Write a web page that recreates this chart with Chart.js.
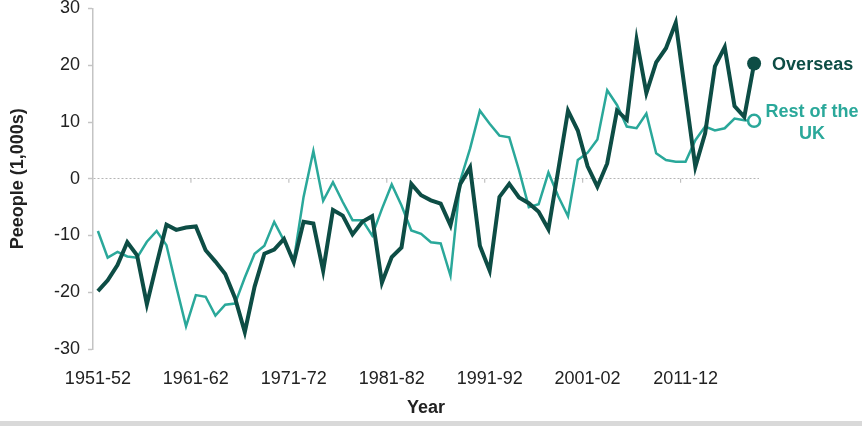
<!DOCTYPE html>
<html>
<head>
<meta charset="utf-8">
<script src="https://cdn.jsdelivr.net/npm/chart.js@4.4.1/dist/chart.umd.min.js"></script>
<style>
  body { margin: 0; background: #fff; }
  #wrap { position: relative; width: 862px; height: 421px; }
  #bar { width: 862px; height: 5px; background: #d9d9d9; }
</style>
</head>
<body>
<div id="wrap"><canvas id="migChart"></canvas></div>
<div id="bar"></div>
<script>
var years = [
  '1951-52','1952-53','1953-54','1954-55','1955-56','1956-57','1957-58','1958-59','1959-60','1960-61',
  '1961-62','1962-63','1963-64','1964-65','1965-66','1966-67','1967-68','1968-69','1969-70','1970-71',
  '1971-72','1972-73','1973-74','1974-75','1975-76','1976-77','1977-78','1978-79','1979-80','1980-81',
  '1981-82','1982-83','1983-84','1984-85','1985-86','1986-87','1987-88','1988-89','1989-90','1990-91',
  '1991-92','1992-93','1993-94','1994-95','1995-96','1996-97','1997-98','1998-99','1999-00','2000-01',
  '2001-02','2002-03','2003-04','2004-05','2005-06','2006-07','2007-08','2008-09','2009-10','2010-11',
  '2011-12','2012-13','2013-14','2014-15','2015-16','2016-17','2017-18','2018-19'
];

var tickLabels = ['1951-52', '1961-62', '1971-72', '1981-82', '1991-92', '2001-02', '2011-12'];

// net migration, thousands
var overseas = [
  -19.8, -17.9, -15.2, -11.2, -13.5, -22.1, -15.0, -8.1, -9.0, -8.6,
  -8.4, -12.6, -14.6, -16.8, -21.0, -27.0, -19.0, -13.2, -12.5, -10.6,
  -14.7, -7.6, -7.9, -16.2, -5.5, -6.5, -9.8, -7.6, -6.6, -18.3,
  -13.8, -12.1, -0.9, -2.9, -3.8, -4.4, -8.2, -0.9, 2.0, -11.8,
  -16.2, -3.2, -0.9, -3.3, -4.3, -5.8, -8.9, 1.5, 12.0, 8.5,
  2.2, -1.4, 2.7, 12.0, 10.4, 24.5, 15.1, 20.5, 23.0, 27.5,
  14.8, 2.1, 8.0, 19.8, 23.2, 12.8, 10.9, 20.3
];

var restOfUK = [
  -9.2, -13.9, -12.9, -13.7, -13.9, -11.1, -9.2, -11.7, -19.0, -26.0,
  -20.5, -20.8, -24.1, -22.2, -22.0, -17.4, -13.2, -11.8, -7.6, -10.9,
  -14.4, -3.2, 4.9, -3.9, -0.6, -4.1, -7.3, -7.3, -10.0, -5.3,
  -1.0, -4.7, -9.1, -9.7, -11.2, -11.4, -17.1, -0.3, 5.3, 12.0,
  9.7, 7.6, 7.3, 1.5, -5.0, -4.5, 1.1, -3.1, -6.6, 3.3,
  4.6, 6.9, 15.6, 13.0, 9.2, 8.9, 11.5, 4.5, 3.3, 3.0,
  3.0, 6.8, 9.2, 8.5, 8.9, 10.6, 10.3, 10.2
];

var yTicks = [-30, -20, -10, 0, 10, 20, 30];

var darkTeal = '#0d4d45';
var lightTeal = '#2aa89a';
var textCol = '#222222';

function lastOnly(r) {
  return function(ctx) { return ctx.dataIndex === years.length - 1 ? r : 0; };
}

// labels next to the end points + small ticks on the zero line
var endLabels = {
  id: 'endLabels',
  afterDatasetsDraw: function(chart) {
    var c = chart.ctx;
    var xs = chart.scales.x, ys = chart.scales.y;
    var y0 = ys.getPixelForValue(0);
    c.save();
    c.strokeStyle = '#b5b5b5';
    c.lineWidth = 1;
    for (var k = 10; k < years.length; k += 10) {
      var bx = (xs.getPixelForValue(k - 1) + xs.getPixelForValue(k)) / 2;
      c.beginPath();
      c.moveTo(bx, y0);
      c.lineTo(bx, y0 + 4);
      c.stroke();
    }
    var p1 = chart.getDatasetMeta(0).data[years.length - 1];
    var p2 = chart.getDatasetMeta(1).data[years.length - 1];
    c.font = 'bold 18px "Liberation Sans", Arial, sans-serif';
    c.textBaseline = 'middle';
    c.fillStyle = darkTeal;
    c.textAlign = 'left';
    c.fillText('Overseas', p1.x + 18, p1.y + 1);
    c.fillStyle = lightTeal;
    c.textAlign = 'center';
    c.fillText('Rest of the', p2.x + 58, p2.y - 9);
    c.fillText('UK', p2.x + 58, p2.y + 13);
    c.restore();
  }
};

var ctx = document.getElementById('migChart').getContext('2d');
var migChart = new Chart(ctx, {
  type: 'line',
  data: {
    labels: years,
    datasets: [{
      label: 'Overseas',
      data: overseas,
      borderColor: darkTeal,
      backgroundColor: darkTeal,
      borderWidth: 4,
      tension: 0,
      pointRadius: lastOnly(7),
      pointHoverRadius: 0,
      pointBackgroundColor: darkTeal,
      pointBorderColor: darkTeal,
      pointBorderWidth: 0
    }, {
      label: 'Rest of the UK',
      data: restOfUK,
      borderColor: lightTeal,
      backgroundColor: '#ffffff',
      borderWidth: 2.5,
      tension: 0,
      pointRadius: lastOnly(6),
      pointHoverRadius: 0,
      pointBackgroundColor: '#ffffff',
      pointBorderColor: lightTeal,
      pointBorderWidth: 2.5
    }]
  },
  options: {
    responsive: true,
    maintainAspectRatio: false,
    animation: false,
    layout: { padding: { left: 0, right: 103, top: 0, bottom: 0 } },
    plugins: {
      legend: { display: false },
      tooltip: { enabled: false }
    },
    scales: {
      x: {
        type: 'category',
        offset: true,
        grid: { display: false },
        border: { display: false },
        afterFit: function(scale) { scale.height = 72; },
        ticks: {
          autoSkip: false,
          maxRotation: 0,
          padding: 11,
          color: textCol,
          font: { family: '"Liberation Sans", Arial, sans-serif', size: 18 },
          callback: function(v, i) {
            var s = years[i];
            return tickLabels.indexOf(s) >= 0 ? s : '';
          }
        },
        title: {
          display: true,
          text: 'Year',
          color: textCol,
          padding: { top: 0, bottom: 2 },
          font: { family: '"Liberation Sans", Arial, sans-serif', size: 18, weight: 'bold' }
        }
      },
      y: {
        min: -30,
        max: 30,
        afterFit: function(scale) {
          scale.width = 93;
          scale.paddingTop = 7;
        },
        afterBuildTicks: function(scale) {
          scale.ticks = yTicks.map(function(v) { return { value: v }; });
        },
        grid: {
          color: function(c) { return c.tick && c.tick.value === 0 ? '#b5b5b5' : 'rgba(0,0,0,0)'; },
          lineWidth: 1,
          tickColor: '#c4c4c4',
          tickLength: 5,
          tickWidth: 1.5
        },
        border: { display: true, color: '#c4c4c4', width: 1.5, dash: [2, 2] },
        ticks: {
          padding: 8,
          color: textCol,
          font: { family: '"Liberation Sans", Arial, sans-serif', size: 18, lineHeight: 0.8 }
        },
        title: {
          display: true,
          text: 'Peeople (1,000s)',
          color: textCol,
          padding: { top: 7, bottom: 7 },
          font: { family: '"Liberation Sans", Arial, sans-serif', size: 18, weight: 'bold' }
        }
      }
    }
  },
  plugins: [endLabels]
});
</script>
</body>
</html>
